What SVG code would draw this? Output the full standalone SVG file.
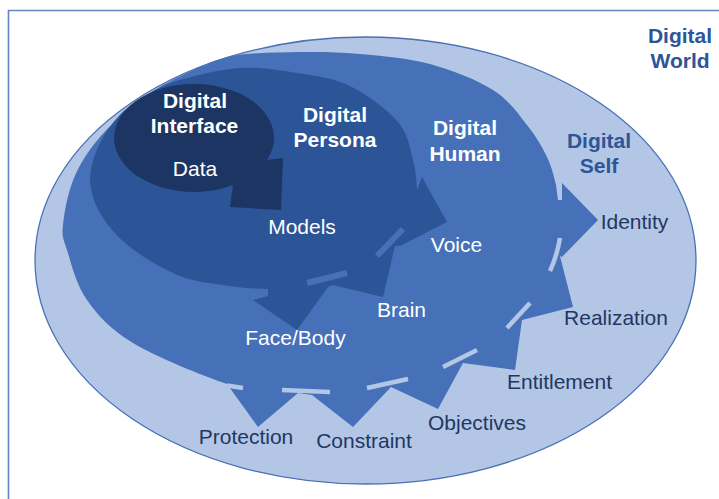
<svg xmlns="http://www.w3.org/2000/svg" width="719" height="499" viewBox="0 0 719 499">
  <style>
    .t { font-family: "Liberation Sans", Arial, Helvetica, sans-serif; font-size: 21px; text-anchor: middle; }
    .b { font-weight: bold; }
    .w { fill: #ffffff; }
    .d { fill: #22375f; }
    .s { fill: #2d5597; }
    .gap-light { fill: none; stroke: #b3c6e6; stroke-width: 4.5; stroke-linecap: butt; }
    .gap-mid { fill: none; stroke: #4671b8; stroke-width: 6; stroke-linecap: butt; }
  </style>

  <rect width="719" height="499" fill="#ffffff"/>

  <!-- Digital World: open frame -->
  <g id="digital-world">
    <path d="M8.5,499 V10.5 H719" fill="none" stroke="#6386c2" stroke-width="1.6"/>
    <text class="t b s" x="680" y="43">Digital</text>
    <text class="t b s" x="680" y="68">World</text>
  </g>

  <!-- Digital Self: outer ellipse -->
  <g id="digital-self">
    <ellipse cx="365.5" cy="260.5" rx="330.5" ry="223.5" fill="#b3c6e6" stroke="#4a70b5" stroke-width="1.3"/>
    <text class="t b s" x="599" y="148">Digital</text>
    <text class="t b s" x="599" y="173">Self</text>
  </g>

  <!-- Digital Human: body with six outward arrowheads -->
  <g id="digital-human">
    <path fill="#4671b8" d="M63,225
      C64.2,213 67.8,192.7 74,178
      C80.2,163.3 88.5,150.3 100,137
      C111.5,123.7 128.5,108.7 143,98
      C157.5,87.3 172,80 187,73
      C202,66 214.2,59.5 233,56
      C251.8,52.5 278.8,52.3 300,52
      C321.2,51.7 338.3,52 360,54
      C381.7,56 407.8,58 430,64
      C452.2,70 476.8,79.8 493,90
      C509.2,100.2 518,113.8 527,125
      C536,136.2 542.2,147 547,157
      C551.8,167 554.2,177.8 556,185
      L558,200 L562,200 L562,183 L598,220 L562,257 L560,256
      L573,307 L522,320 L515,370 L463,363 L438,409 L391,387
      L353,427 L312,395 L298,393 L258,427 L227,384
      C202.5,375.8 156.3,357 133,343
      C109.7,329 98,315.5 87,300
      C76,284.5 71,262.5 67,250
      C63,237.5 61.8,237 63,225 Z"/>
    <text class="t b w" x="465" y="135">Digital</text>
    <text class="t b w" x="465" y="161">Human</text>
    <text class="t d" x="634.5" y="229">Identity</text>
    <text class="t d" x="616" y="325">Realization</text>
    <text class="t d" x="559.5" y="389">Entitlement</text>
    <text class="t d" x="477" y="430">Objectives</text>
    <text class="t d" x="364" y="448">Constraint</text>
    <text class="t d" x="246" y="444">Protection</text>
  </g>

  <!-- Digital Persona: body with three arrowheads -->
  <g id="digital-persona">
    <path fill="#2b5597" d="M90,178
      C90.7,166.3 94.3,155.2 99,145
      C103.7,134.8 110.7,125 118,117
      C125.3,109 132.7,103.2 143,97
      C153.3,90.8 163.8,84.8 180,80
      C196.2,75.2 220.5,69.2 240,68
      C259.5,66.8 278.7,70 297,73
      C315.3,76 333.2,77.8 350,86
      C366.8,94.2 387.5,109.7 398,122
      C408.5,134.3 409.8,148.7 413,160
      C416.2,171.3 416.2,180.8 417,190
      L422,177 L447,222 L400,246 L395,246 L383,297 L333,285
      L328,287 L297,330 L253,300 L268,296 L268,289
      C256.3,288.7 244.7,288.2 230,286
      C215.3,283.8 196.7,282.5 180,276
      C163.3,269.5 143.3,257.5 130,247
      C116.7,236.5 106.7,224.5 100,213
      C93.3,201.5 90.2,189.3 90,178 Z"/>
    <text class="t b w" x="335" y="122">Digital</text>
    <text class="t b w" x="335" y="147">Persona</text>
    <text class="t w" x="302" y="234">Models</text>
    <text class="t w" x="456.5" y="252">Voice</text>
    <text class="t w" x="401.5" y="317">Brain</text>
    <text class="t w" x="295.5" y="345">Face/Body</text>
  </g>

  <!-- Digital Interface: ellipse with one arrowhead -->
  <g id="digital-interface">
    <path fill="#1c3563" d="M267,160.1 A80,54 0 1 0 233,185.1 L230,207 L281,210 L283,158 Z"/>
    <text class="t b w" x="195" y="108">Digital</text>
    <text class="t b w" x="194.5" y="133">Interface</text>
    <text class="t w" x="195" y="176">Data</text>
  </g>

  <!-- gaps separating the arrow bodies -->
  <g id="connectors">
    <path class="gap-light" d="M560,238 Q557,256 550,271"/>
    <line class="gap-light" x1="507" y1="328" x2="530" y2="303"/>
    <line class="gap-light" x1="443" y1="367" x2="477" y2="350"/>
    <line class="gap-light" x1="367" y1="388" x2="408" y2="379"/>
    <line class="gap-light" x1="282" y1="390" x2="330" y2="392"/>
    <line class="gap-light" x1="227" y1="385.5" x2="243" y2="388"/>
    <line class="gap-mid" x1="377" y1="256" x2="403" y2="229"/>
    <line class="gap-mid" x1="307" y1="283" x2="347" y2="273"/>
  </g>
</svg>
